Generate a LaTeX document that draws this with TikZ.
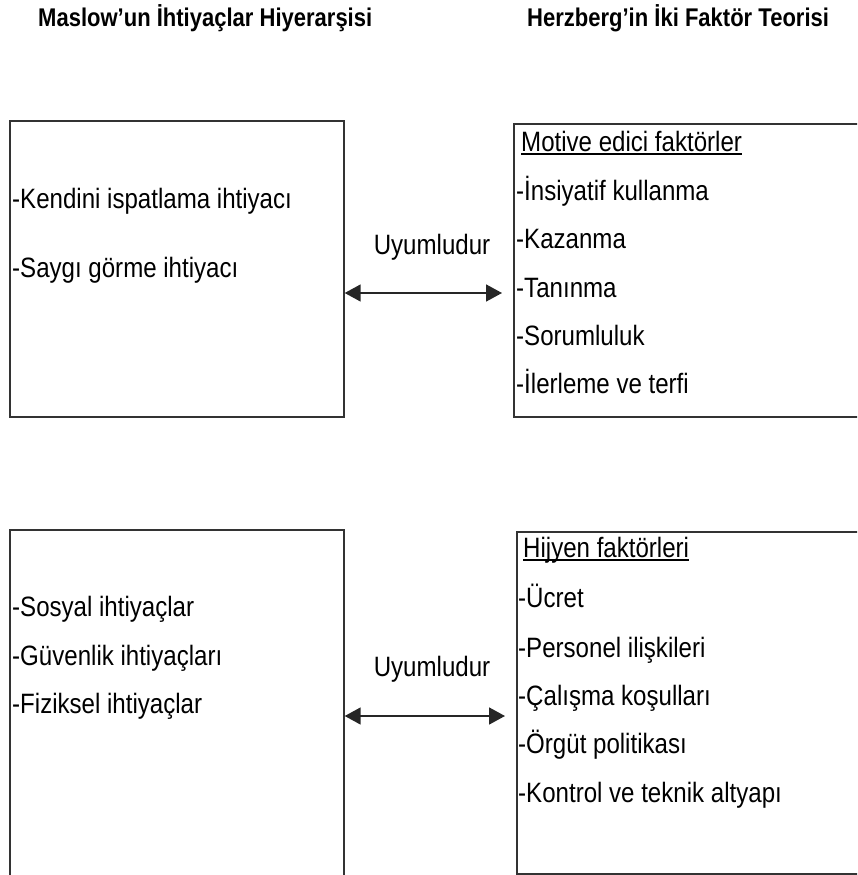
\documentclass[tikz,border=0pt]{standalone}
\usepackage{fontspec}
\setmainfont{Liberation Sans}[FakeStretch=0.86]
\usetikzlibrary{arrows.meta}
\begin{document}
\begin{tikzpicture}[x=1pt,y=-1pt,
  frame/.style={draw=black!80,line width=1.7pt,anchor=north west,inner sep=0pt},
  item/.style={anchor=base west,inner sep=0pt,font=\fontsize{28}{32}\selectfont},
  title/.style={anchor=base west,inner sep=0pt,font=\fontsize{25.6}{30}\selectfont\bfseries},
  link/.style={draw=black!85,line width=1.7pt,{Triangle[length=16pt,width=17pt]}-{Triangle[length=16pt,width=17pt]}},
  uline/.style={line width=1.7pt}]
\useasboundingbox (0,0) rectangle (857,875);
\clip (0,0) rectangle (857,875);

% column headings
\node[title] (hl) at (38,27) {Maslow’un İhtiyaçlar Hiyerarşisi};
\node[title] (hr) at (527,27) {Herzberg’in İki Faktör Teorisi};

% upper row
\node[frame,minimum width=334pt,minimum height=296pt] (tl) at (9,120) {};
\node[frame,minimum width=400pt,minimum height=293pt] (tr) at (513,123) {};
\node[item] (t1) at (12,208) {-Kendini ispatlama ihtiyacı};
\node[item] (t2) at (12,277) {-Saygı görme ihtiyacı};

\node[item] (mh) at (521,151) {Motive edici faktörler};
\draw[uline] ([yshift=-3pt]mh.base west) -- ([yshift=-3pt]mh.base east);
\node[item] (m1) at (516,200) {-İnsiyatif kullanma};
\node[item] (m2) at (516,248) {-Kazanma};
\node[item] (m3) at (516,297) {-Tanınma};
\node[item] (m4) at (516,345) {-Sorumluluk};
\node[item] (m5) at (516,393) {-İlerleme ve terfi};

\node[item,anchor=base] (u1) at (432,254) {Uyumludur};
\coordinate (a1) at (0,293);
\draw[link] (tl.east |- a1) -- ([xshift=-11pt]tr.west |- a1);

% lower row
\node[frame,minimum width=334pt,minimum height=400pt] (bl) at (9,529) {};
\node[frame,minimum width=400pt,minimum height=342pt] (br) at (516,531) {};
\node[item] (s1) at (12,616) {-Sosyal ihtiyaçlar};
\node[item] (s2) at (12,665) {-Güvenlik ihtiyaçları};
\node[item] (s3) at (12,713) {-Fiziksel ihtiyaçlar};

\node[item] (hh) at (523,557) {Hijyen faktörleri};
\draw[uline] ([yshift=-3pt]hh.base west) -- ([yshift=-3pt]hh.base east);
\node[item] (h1) at (518,607) {-Ücret};
\node[item] (h2) at (518,657) {-Personel ilişkileri};
\node[item] (h3) at (518,705) {-Çalışma koşulları};
\node[item] (h4) at (518,753) {-Örgüt politikası};
\node[item] (h5) at (518,802) {-Kontrol ve teknik altyapı};

\node[item,anchor=base] (u2) at (432,676) {Uyumludur};
\coordinate (a2) at (0,716);
\draw[link] (bl.east |- a2) -- ([xshift=-11pt]br.west |- a2);
\end{tikzpicture}
\end{document}
